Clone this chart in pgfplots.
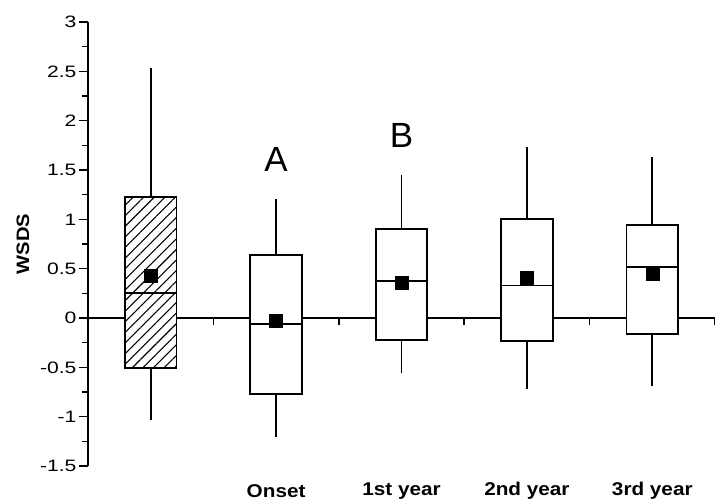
\documentclass[border=0pt]{standalone}
\usepackage{pgfplots}
\pgfplotsset{compat=1.18}
\usepgfplotslibrary{statistics}
\usetikzlibrary{patterns.meta}
\usepackage{fontspec}
\setmainfont{Liberation Sans}
\newfontfamily\tickfont[FakeStretch=1.28]{Liberation Sans}
\newfontfamily\catfont[FakeStretch=1.12]{Liberation Sans}
\begin{document}
\begin{tikzpicture}
\begin{axis}[
  scale only axis, width=627pt, height=444pt,
  xmin=0.5, xmax=5.5, ymin=-1.5, ymax=3,
  axis y line=left, axis x line=none,
  axis line style={-, line width=1.8pt},
  ytick={-1.5,-1,-0.5,0,0.5,1,1.5,2,2.5,3},
  minor y tick num=1,
  tick align=outside,
  major tick length=9pt, minor tick length=6pt,
  every tick/.style={line width=1.6pt, black},
  yticklabel style={font=\tickfont\fontsize{16.5}{16.5}\selectfont, /pgf/number format/assume math mode=true, xshift=1pt},
  /pgf/number format/fixed,
  clip=false,
  boxplot/draw direction=y,
  boxplot/box extend=0.41,
  boxplot/whisker extend=0,
  boxplot/every box/.style={draw=black, line width=1.8pt, fill=white},
  boxplot/every whisker/.style={draw=black, line width=1.8pt},
  boxplot/every median/.style={draw=black, line width=1.8pt},
]
\coordinate (bl) at (rel axis cs:0,0);
\coordinate (tr) at (rel axis cs:1,1);
% zero line
\addplot[line width=1.8pt, black] coordinates {(0.5,0) (5.5,0)};
% boxes
\addplot[black, boxplot/every box/.append style={postaction={pattern={Lines[angle=45, distance=7.5pt, line width=1.1pt]}}},
  boxplot prepared={draw position=1, lower whisker=-1.03, lower quartile=-0.51, median=0.25, upper quartile=1.23, upper whisker=2.53}] coordinates {};
\addplot[black,
  boxplot prepared={draw position=2, lower whisker=-1.21, lower quartile=-0.77, median=-0.064, upper quartile=0.635, upper whisker=1.21}] coordinates {};
\addplot[black,
  boxplot prepared={draw position=3, lower whisker=-0.56, lower quartile=-0.22, median=0.375, upper quartile=0.905, upper whisker=1.445}] coordinates {};
\addplot[black,
  boxplot prepared={draw position=4, lower whisker=-0.716, lower quartile=-0.236, median=0.33, upper quartile=1.003, upper whisker=1.73}] coordinates {};
\addplot[black,
  boxplot prepared={draw position=5, lower whisker=-0.69, lower quartile=-0.165, median=0.517, upper quartile=0.94, upper whisker=1.63}] coordinates {};
% means
\addplot[only marks, mark=square*, mark size=6.5pt, black] coordinates {(1,0.43) (2,-0.03) (3,0.36) (4,0.405) (5,0.45)};
% small ticks on zero line
\pgfplotsinvokeforeach{1.5,2.5,3.5,4.5,5.5}{\draw[line width=1.6pt] (axis cs:#1,0) -- ([yshift=-7pt]axis cs:#1,0);}
% letters
\node[font=\fontsize{35}{35}\selectfont] at (axis cs:2,1.61) {A};
\node[font=\fontsize{35}{35}\selectfont] at (axis cs:3,1.85) {B};
% category labels
\node[font=\catfont\bfseries\fontsize{18.5}{18.5}\selectfont] at ([yshift=-25pt]axis cs:2,-1.5) {Onset};
\node[font=\catfont\bfseries\fontsize{18.5}{18.5}\selectfont] at ([yshift=-25pt]axis cs:3,-1.5) {1st year};
\node[font=\catfont\bfseries\fontsize{18.5}{18.5}\selectfont] at ([yshift=-25pt]axis cs:4,-1.5) {2nd year};
\node[font=\catfont\bfseries\fontsize{18.5}{18.5}\selectfont] at ([yshift=-25pt]axis cs:5,-1.5) {3rd year};
% y label
\node[rotate=90, font=\catfont\bfseries\fontsize{18}{18}\selectfont] at ([xshift=-65pt]axis cs:0.5,0.75) {WSDS};
\end{axis}
\pgfresetboundingbox
\useasboundingbox ([shift={(-88pt,-34pt)}]bl) rectangle ([shift={(0pt,22pt)}]tr);
\end{tikzpicture}
\end{document}
